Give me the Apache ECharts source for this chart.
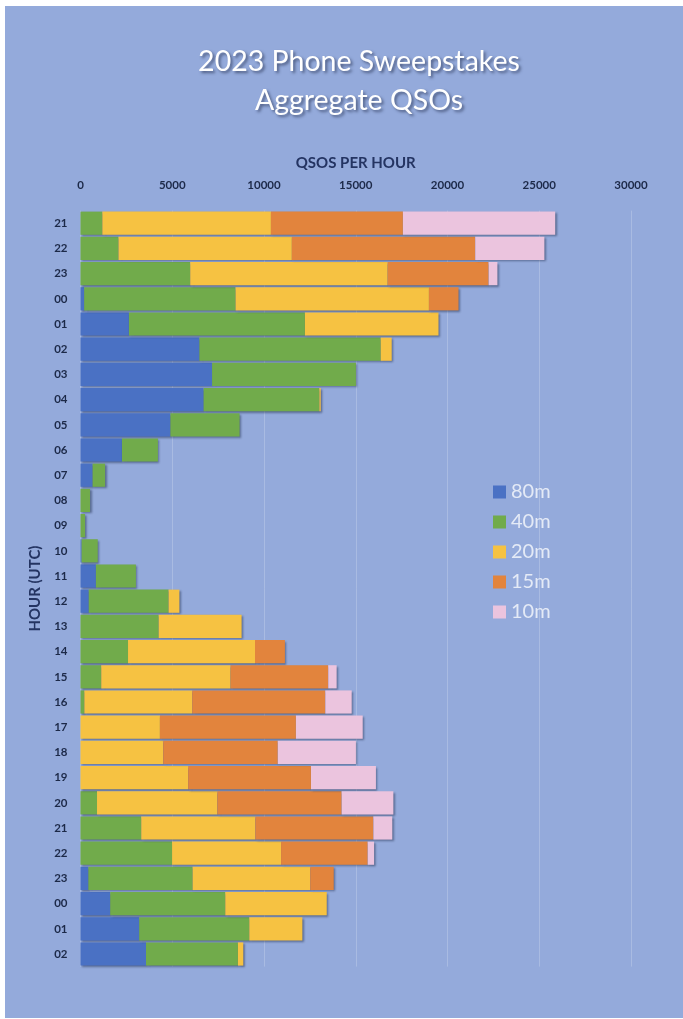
<!DOCTYPE html>
<html>
<head>
<meta charset="utf-8">
<script src="https://cdn.jsdelivr.net/npm/echarts@6/dist/echarts.min.js"></script>
<style>
html,body{margin:0;padding:0;background:#ffffff;}
#bg{position:absolute;left:5px;top:6px;width:678px;height:1012px;background:#94aadb;}
#chart{position:absolute;left:0;top:0;width:683px;height:1019px;}
</style>
</head>
<body>
<div id="bg"></div>
<div id="chart"></div>
<script>
const hours = ['21','22','23','00','01','02','03','04','05','06','07','08','09','10','11','12','13','14','15','16','17','18','19','20','21','22','23','00','01','02'];
const xTicks = [0, 5000, 10000, 15000, 20000, 25000, 30000];
const bandNames = ['80m','40m','20m','15m','10m'];
const band80 = [0,0,0,200,2640,6480,7170,6710,4900,2260,660,0,0,60,840,450,0,0,0,0,0,0,0,0,0,0,430,1620,3200,3570];
const band40 = [1190,2070,5980,8250,9590,9880,7840,6310,3770,1960,680,520,250,880,2180,4350,4260,2590,1130,210,0,0,0,900,3310,4990,5680,6270,6000,5010];
const band20 = [9190,9450,10760,10540,7280,600,0,70,0,0,0,0,0,0,0,590,4520,6920,7050,5880,4330,4510,5870,6560,6220,5940,6410,5530,2890,290];
const band15 = [7190,9990,5500,1610,0,0,0,0,0,0,0,0,0,0,0,0,0,1630,5320,7250,7410,6240,6690,6770,6430,4720,1280,0,0,0];
const band10 = [8300,3770,480,0,0,0,0,0,0,0,0,0,0,0,0,0,0,0,460,1440,3640,4260,3540,2820,1030,350,0,0,0,0];
const bandData = [band80, band40, band20, band15, band10];
const bandColors = ['#4a71c4','#71ab4b','#f6c242','#e2843d','#ebc4de'];

const chart = echarts.init(document.getElementById('chart'), null, {renderer:'canvas'});
const axisFont = 'Lato, sans-serif';
const series = bandNames.map((n, i) => ({
  name: n,
  type: 'bar',
  stack: 'total',
  data: bandData[i],
  barCategoryGap: '8%',
  itemStyle: {
    color: bandColors[i],
    shadowColor: 'rgba(20,30,60,0.45)',
    shadowBlur: 2,
    shadowOffsetX: 1.5,
    shadowOffsetY: 1.5
  },
  emphasis: {disabled: true}
}));

chart.setOption({
  animation: false,
  backgroundColor: 'transparent',
  title: {
    text: '2023 Phone Sweepstakes\nAggregate QSOs',
    left: 359,
    top: 42,
    padding: 0,
    textAlign: 'center',
    textStyle: {
      color: '#ffffff',
      fontSize: 28.5,
      fontWeight: 'normal',
      fontFamily: 'Lato, sans-serif',
      lineHeight: 39,
      textShadowColor: 'rgba(30,40,70,0.6)',
      textShadowBlur: 3,
      textShadowOffsetX: 2,
      textShadowOffsetY: 2
    }
  },
  legend: {
    data: bandNames,
    orient: 'vertical',
    left: 488,
    top: 477,
    itemWidth: 13,
    itemHeight: 13,
    itemGap: 10,
    icon: 'rect',
    textStyle: {color:'#e4eaf6', fontSize:20, fontFamily:'Lato, sans-serif'}
  },
  grid: {left: 80.5, right: 52, top: 210.6, bottom: 52.4, containLabel: false},
  xAxis: {
    type: 'value',
    position: 'top',
    min: xTicks[0],
    max: xTicks[xTicks.length-1],
    interval: xTicks[1] - xTicks[0],
    name: 'QSOS PER HOUR',
    nameLocation: 'middle',
    nameGap: 40,
    nameTextStyle: {color:'#243462', fontSize:15, fontWeight:'bold', fontFamily:axisFont},
    axisLine: {show:false},
    axisTick: {show:false},
    axisLabel: {color:'#1c2948', fontSize:11.5, fontWeight:'bold', margin:19, fontFamily:axisFont, formatter: v => String(v)},
    splitLine: {show:true, lineStyle:{color:'rgba(255,255,255,0.2)', width:1}}
  },
  yAxis: {
    type: 'category',
    inverse: true,
    data: hours,
    name: 'HOUR (UTC)',
    nameLocation: 'middle',
    nameGap: 38,
    nameRotate: 90,
    nameTextStyle: {color:'#243462', fontSize:15, fontWeight:'bold', fontFamily:axisFont},
    axisLine: {show:false},
    axisTick: {show:false},
    axisLabel: {color:'#1c2948', fontSize:11.5, fontWeight:'bold', margin:13, fontFamily:axisFont},
    splitLine: {show:false}
  },
  series: series
});
</script>
</body>
</html>
